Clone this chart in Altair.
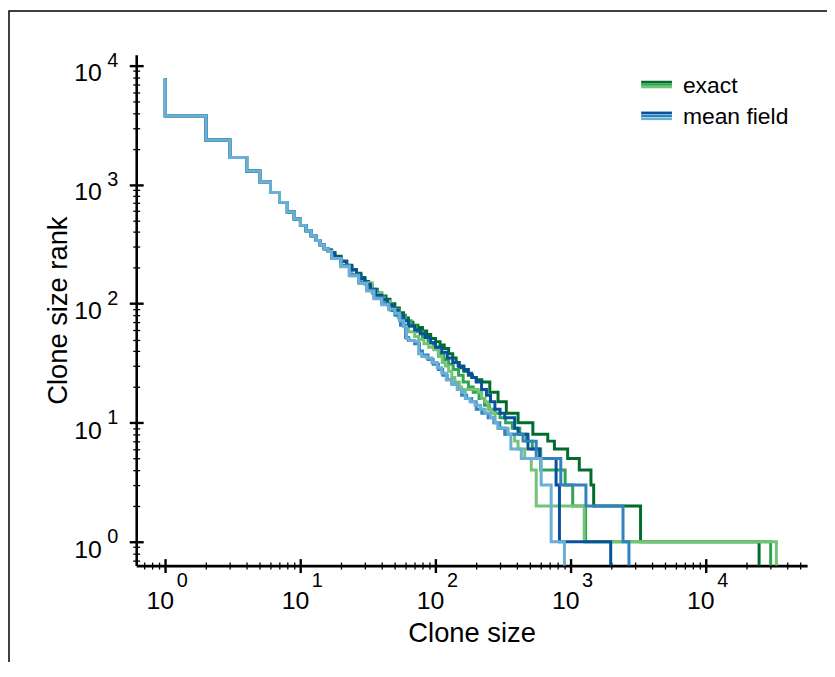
import altair as alt
import pandas as pd

FONT = "Liberation Sans"

# ---- data: clone size (plateau end) vs clone size rank -------------------
HEAD_SIZE = [1, 2, 3, 4, 5, 6, 7, 8, 9, 10, 11, 12, 13, 14, 15, 16]
HEAD_RANK = [7800, 3800, 2370, 1690, 1300, 1060, 860, 710, 590, 515, 455, 410, 372, 340, 312, 290]

EXACT_A_SIZE = [17, 18, 20, 22, 24, 26, 28, 30, 32, 34, 37, 40, 43, 46, 50, 54, 58, 63, 68, 74,
                80, 86, 92, 100, 108, 116, 125, 134, 142, 150, 162, 175, 188, 200, 220, 252, 290,
                334, 408, 525, 677, 758, 950, 1158, 1413, 1480, 3290, 24800]
EXACT_A_RANK = [282, 268, 250, 228, 210, 194, 180, 166, 154, 142, 132, 123, 116, 109, 100, 92, 84,
                76, 70, 66, 63, 59, 55, 51, 48, 45, 42, 38, 35, 32, 29, 27, 25, 24, 23, 22, 18, 15,
                12, 10, 8, 7, 6, 5, 4, 3, 2, 1]

EXACT_B_SIZE = [17, 20, 24, 28, 32, 37, 42, 48, 54, 60, 66, 72, 80, 88, 96, 105, 115, 125, 135, 148,
                160, 175, 190, 210, 230, 250, 275, 300, 330, 370, 420, 470, 520, 600, 910, 1035,
                1290, 30200]
EXACT_B_RANK = [279, 244, 205, 173, 150, 130, 114, 100, 89, 80, 72, 65, 58, 52, 47, 43, 38, 34, 31,
                28, 25, 22, 20, 18, 16, 14, 13, 12, 11, 10, 9, 8, 7, 6, 4, 3, 2, 1]

EXACT_C_SIZE = [17, 20, 24, 28, 34, 40, 46, 53, 58, 63, 70, 75, 82, 89, 97, 105, 112, 118, 125, 132,
                139, 150, 156, 207, 220, 232, 245, 258, 275, 290, 330, 385, 408, 457, 511, 556,
                1260, 33300]
EXACT_C_RANK = [278, 243, 204, 172, 150, 122, 105, 88, 76, 66, 58, 53, 50, 46, 43, 41, 36, 32, 30,
                27, 24, 22, 20, 19, 18, 16, 15, 13, 12, 10, 9, 8, 7, 6, 5, 4, 2, 1]

MF_A_SIZE = [17, 18, 20, 22, 24, 26, 28, 30, 33, 36, 40, 44, 48, 53, 58, 63, 70, 77, 84, 92, 100,
             111, 122, 134, 147, 162, 175, 185, 200, 219, 238, 255, 275, 300, 325, 385, 408, 483,
             589, 780, 826, 1978]
MF_A_RANK = [281, 268, 246, 226, 206, 192, 176, 162, 146, 132, 118, 108, 98, 88, 80, 72, 65, 60, 56,
             52, 47, 43, 39, 35, 32, 30, 28, 26, 24, 22, 19, 17, 15, 13, 12, 11, 9, 8, 6, 5, 3, 1]

MF_B_SIZE = [17, 20, 23, 27, 31, 35, 40, 45, 50, 55, 60, 63, 70, 76, 80, 88, 96, 105, 113, 122,
             132, 145, 156, 170, 185, 200, 220, 245, 270, 299, 325, 444, 556, 845, 1297, 2440, 2700]
MF_B_RANK = [278, 240, 210, 175, 150, 130, 112, 100, 90, 80, 66, 52, 49, 46, 40, 37, 34, 31, 28, 25,
             23, 21, 19, 17, 16, 15, 13, 12, 11, 10, 9, 8, 7, 5, 3, 2, 1]

MF_C_SIZE = [17, 20, 23, 27, 31, 35, 40, 45, 50, 54, 58, 61, 64, 70, 75, 79, 86, 94, 103, 111,
             120, 132, 145, 156, 166, 180, 196, 215, 232, 255, 275, 290, 344, 361, 431, 605, 717, 899]
MF_C_RANK = [275, 240, 205, 172, 148, 128, 110, 98, 90, 83, 72, 64, 51, 49, 48, 38, 36, 35, 32, 29,
             26, 23, 21, 19, 18, 16, 15, 14, 13, 12, 11, 10, 9, 8, 6, 5, 3, 1]

SERIES_NAMES = ["exact A", "exact B", "exact C", "mean field A", "mean field B", "mean field C"]
SERIES_COLORS = ["#006d2c", "#31a354", "#74c476", "#08519c", "#3182bd", "#6baed6"]
SERIES_SIZES = [EXACT_A_SIZE, EXACT_B_SIZE, EXACT_C_SIZE, MF_A_SIZE, MF_B_SIZE, MF_C_SIZE]
SERIES_RANKS = [EXACT_A_RANK, EXACT_B_RANK, EXACT_C_RANK, MF_A_RANK, MF_B_RANK, MF_C_RANK]

LEGEND_LABELS = ["exact", "mean field"]
LEGEND_COLORS = [["#006d2c", "#31a354", "#74c476"], ["#08519c", "#3182bd", "#6baed6"]]

MAJOR_TICKS = [1, 10, 100, 1000, 10000]
DECADES = [0.1, 1, 10, 100, 1000, 10000]
MULTS = [2, 3, 4, 5, 6, 7, 8, 9]
X_DOMAIN = [0.609, 56230]
Y_DOMAIN = [0.63, 12360]
BELOW_AXIS = 0.1  # rank 0 (past the largest clone) drawn as a drop below the axis

MINOR_X = [m * d for d in DECADES for m in MULTS if X_DOMAIN[0] <= m * d <= X_DOMAIN[1]]
MINOR_Y = [m * d for d in DECADES for m in MULTS if Y_DOMAIN[0] <= m * d <= Y_DOMAIN[1]]

W, H = 675, 514

rows = []
for name, sz, rk in zip(SERIES_NAMES, SERIES_SIZES, SERIES_RANKS):
    sizes = HEAD_SIZE + sz + [sz[-1]]
    ranks = HEAD_RANK + rk + [BELOW_AXIS]
    for i, (a, b) in enumerate(zip(sizes, ranks)):
        rows.append({"series": name, "size": a, "rank": b, "idx": i})
df = pd.DataFrame(rows)

xs = alt.Scale(type="log", domain=X_DOMAIN, nice=False)
ys = alt.Scale(type="log", domain=Y_DOMAIN, nice=False)

layers = []
for name, color in zip(SERIES_NAMES, SERIES_COLORS):
    layers.append(
        alt.Chart(df[df.series == name])
        .mark_line(interpolate="step-before", clip=True, color=color, strokeWidth=3)
        .encode(
            x=alt.X("size:Q", scale=xs, axis=None),
            y=alt.Y("rank:Q", scale=ys, axis=None),
            order=alt.Order("idx:Q"),
        )
    )

common = dict(grid=False, tickColor="black", labelColor="black", labelFont=FONT,
              labelFlush=False, labelOverlap=False)
EXP = "'' + round(log(datum.value) / LN10)"

x_axes = [
    alt.Axis(orient="bottom", values=MAJOR_TICKS, labelExpr="'10'", tickSize=7, tickWidth=2.4,
             domain=True, domainColor="black", domainWidth=2.6, labelFontSize=25,
             labelPadding=16, labelOffset=-5.5, title="Clone size", titleFont=FONT,
             titleFontSize=27.5, titleFontWeight="normal", titleColor="black", titleY=76,
             titleBaseline="alphabetic", **common),
    alt.Axis(orient="bottom", values=MAJOR_TICKS, offset=-7, tickSize=7, tickWidth=2.4,
             domain=False, labels=False, title=None, **common),
    alt.Axis(orient="bottom", values=MINOR_X, tickSize=3.5, tickWidth=1.3,
             domain=False, labels=False, title=None, **common),
    alt.Axis(orient="bottom", values=MINOR_X, offset=-3.5, tickSize=3.5, tickWidth=1.3,
             domain=False, labels=False, title=None, **common),
    alt.Axis(orient="bottom", values=MAJOR_TICKS, labelExpr=EXP, ticks=False, tickSize=0,
             domain=False, labelFontSize=20, labelPadding=5, labelOffset=16.5, title=None, **common),
]
y_axes = [
    alt.Axis(orient="left", values=MAJOR_TICKS, labelExpr="'10'", tickSize=7, tickWidth=2.4,
             domain=True, domainColor="black", domainWidth=2.6, labelFontSize=25,
             labelPadding=28, labelBaseline="middle", labelAlign="right", labelOffset=7.4,
             title="Clone size rank", titleFont=FONT, titleFontSize=27.5, titleFontWeight="normal",
             titleColor="black", titleX=-70, titleY=H / 2, titleAngle=270, titleAlign="center",
             titleBaseline="alphabetic", **common),
    alt.Axis(orient="left", values=MAJOR_TICKS, offset=-7, tickSize=7, tickWidth=2.4,
             domain=False, labels=False, title=None, **common),
    alt.Axis(orient="left", values=MINOR_Y, tickSize=3.5, tickWidth=1.3,
             domain=False, labels=False, title=None, **common),
    alt.Axis(orient="left", values=MINOR_Y, offset=-3.5, tickSize=3.5, tickWidth=1.3,
             domain=False, labels=False, title=None, **common),
    alt.Axis(orient="left", values=MAJOR_TICKS, labelExpr=EXP, ticks=False, tickSize=0,
             domain=False, labelFontSize=20, labelPadding=18.5, labelOffset=-5.5,
             labelAlign="right", labelBaseline="middle", title=None, **common),
]
for ax, ay in zip(x_axes, y_axes):
    layers.append(
        alt.Chart(df).mark_point(opacity=0, clip=True)
        .encode(x=alt.X("size:Q", scale=xs, axis=ax), y=alt.Y("rank:Q", scale=ys, axis=ay))
    )

# ---- legend (drawn by hand: three-shade line swatches) --------------------
one = pd.DataFrame({"k": [0]})
swatch_y = [[27.5, 30, 32.5], [58.5, 61.5, 64.5]]
text_y = [32, 63]
for label, cols, sy, ty in zip(LEGEND_LABELS, LEGEND_COLORS, swatch_y, text_y):
    for c, yy in zip(cols, sy):
        layers.append(
            alt.Chart(one).mark_rule(color=c, strokeWidth=2.6)
            .encode(x=alt.value(508), x2=alt.value(539), y=alt.value(yy))
        )
    layers.append(
        alt.Chart(one).mark_text(text=label, font=FONT, fontSize=23, align="left",
                                 baseline="middle", color="black")
        .encode(x=alt.value(550), y=alt.value(ty))
    )

# ---- figure frame ---------------------------------------------------------
layers.append(
    alt.Chart(one).mark_rect(fillOpacity=0, stroke="black", strokeWidth=1.5)
    .encode(x=alt.value(-128), x2=alt.value(W + 400), y=alt.value(-44), y2=alt.value(H + 400))
)

chart = (
    alt.layer(*layers)
    .resolve_axis(x="independent", y="independent")
    .properties(width=W, height=H, autosize=alt.AutoSizeParams(type="none"),
                padding={"left": 129, "top": 45, "right": 20, "bottom": 95})
    .configure(font=FONT)
    .configure_view(stroke=None)
)

chart.save("out.html", embed_options={"renderer": "svg", "actions": False})
